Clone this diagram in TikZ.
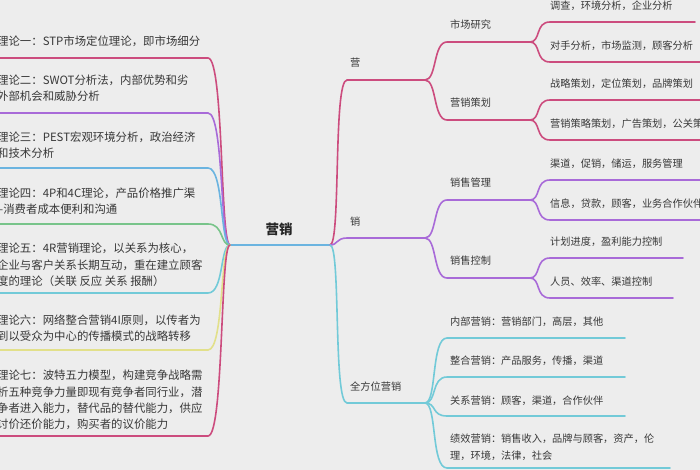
\documentclass[tikz,border=0pt]{standalone}
\usepackage{fontspec}
\usetikzlibrary{calc}
\setmainfont{Noto Sans CJK SC}
\begin{document}
\begin{tikzpicture}[x=1pt,y=-1pt,
  lnk/.style={line width=1.6pt,line cap=round},
  txt/.style={anchor=west,inner sep=0pt,text=black!78,font=\fontsize{10.2}{16.5}\selectfont,align=left},
  ltxt/.style={txt,font=\fontsize{11.4}{16.4}\selectfont}]
\definecolor{cpink}{HTML}{CC4C7E}
\definecolor{cpurp}{HTML}{A86AD8}
\definecolor{cblue}{HTML}{6BB4E0}
\definecolor{cgreen}{HTML}{78C48A}
\definecolor{ccyan}{HTML}{72CAD8}
\definecolor{cyell}{HTML}{E2E08A}
\fill[black!7] (0,0) rectangle (700,470);
\useasboundingbox (0,0) rectangle (700,470);
% center
\node[inner sep=0pt,font=\fontsize{13.5}{14}\selectfont\bfseries,text=black!85] (root) at (279,229) {营销};
\coordinate (cl) at (230,245);
\coordinate (cr) at (330,245);
\draw[lnk,cblue] (cl) -- (cr);
% left theories
\foreach \y/\c/\t/\ty in {
 58/cpink/{理论一：STP市场定位理论，即市场细分}/41,
 113/cpurp/{理论二：SWOT分析法，内部优势和劣\\外部机会和威胁分析}/88,
 168/cblue/{理论三：PEST宏观环境分析，政治经济\\和技术分析}/145,
 224/cgreen/{理论四：4P和4C理论，产品价格推广渠\\–消费者成本便利和沟通}/201,
 293/ccyan/{理论五：4R营销理论，以关系为核心，\\企业与客户关系长期互动，重在建立顾客\\度的理论（关联 反应 关系 报酬）}/265,
 350/cyell/{理论六：网络整合营销4I原则，以传者为\\到以受众为中心的传播模式的战略转移}/328,
 436/cpink/{理论七：波特五力模型，构建竞争战略需\\析五种竞争力量即现有竞争者同行业，潜\\争者进入能力，替代品的替代能力，供应\\讨价还价能力，购买者的议价能力}/400}
{
 \coordinate (L) at (-2,\y);
 \coordinate (Lk) at (208,\y);
 \draw[lnk,\c] (L) -- (Lk) .. controls (224,\y) and (220,245) .. (cl);
 \node[ltxt] at (-3,\ty) {\t};
}
% right main branches
\coordinate (y1) at (347,80); \coordinate (y1e) at (425,80);
\coordinate (x1) at (347,238); \coordinate (x1e) at (425,238);
\coordinate (q1) at (347,403); \coordinate (q1e) at (425,403);
\draw[lnk,cpink] (cr) .. controls (341,245) and (333,80) .. (y1) -- (y1e);
\draw[lnk,cpurp] (cr) .. controls (338,245) and (336,238) .. (x1) -- (x1e);
\draw[lnk,ccyan] (cr) .. controls (341,245) and (333,403) .. (q1) -- (q1e);
\node[txt] (ying) at (350,63) {营};
\node[txt] (xiao) at (350,222) {销};
\node[txt] (qfw) at (350,387) {全方位营销};
% second level
\foreach \s/\y/\c/\t in {y1e/42/cpink/市场研究, y1e/120/cpink/营销策划, x1e/200/cpurp/销售管理, x1e/278/cpurp/销售控制}{
 \coordinate (a) at (447,\y); \coordinate (b) at (530,\y);
 \draw[lnk,\c] (\s) .. controls ($(\s)+(12,0)$) and (433,\y) .. (a) -- (b);
 \node[txt] at (450,{\y-17}) {\t};
}
% third level
\foreach \y/\d/\c/\e/\t in {
 42/22/cpink/695/{调查，环境分析，企业分析},
 42/62/cpink/705/{对手分析，市场监测，顾客分析},
 120/100/cpink/705/{战略策划，定位策划，品牌策划},
 120/140/cpink/705/{营销策略策划，广告策划，公关策划},
 200/180/cpurp/705/{渠道，促销，储运，服务管理},
 200/220/cpurp/705/{信息，贷款，顾客，业务合作伙伴},
 278/258/cpurp/683/{计划进度，盈利能力控制},
 278/298/cpurp/673/{人员、效率、渠道控制}}
{
 \coordinate (s) at (530,\y); \coordinate (a) at (550,\d); \coordinate (b) at (\e,\d);
 \draw[lnk,\c] (s) .. controls (541,\y) and (535,\d) .. (a) -- (b);
 \node[txt] at (550,{\d-16}) {\t};
}
\foreach \d/\e/\t/\ty in {
 338/625/{内部营销：营销部门，高层，其他}/322,
 377/625/{整合营销：产品服务，传播，渠道}/361,
 416/625/{关系营销：顾客，渠道，合作伙伴}/401,
 468/670/{绩效营销：销售收入，品牌与顾客，资产，伦\\理，环境，法律，社会}/447}
{
 \coordinate (a) at (447,\d); \coordinate (b) at (\e,\d);
 \draw[lnk,ccyan] (q1e) .. controls (437,403) and (431,\d) .. (a) -- (b);
 \node[txt] at (450,\ty) {\t};
}
\end{tikzpicture}
\end{document}
